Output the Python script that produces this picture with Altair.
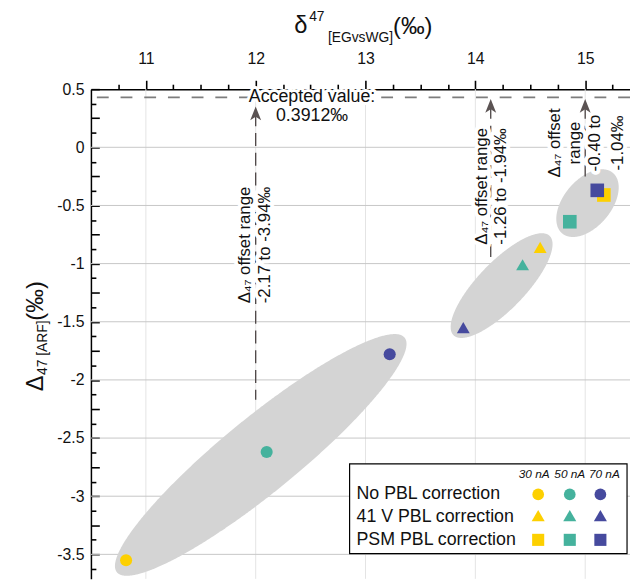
import numpy as np
import pandas as pd
import altair as alt

# ---------------- data ----------------
currents = ["30 nA", "50 nA", "70 nA"]
colors = ["#FDD000", "#45B29D", "#464A9E"]
corrections = ["No PBL correction", "41 V PBL correction", "PSM PBL correction"]
shapes = ["circle", "triangle-up", "square"]

x_no_pbl = [10.82, 12.10, 13.22]
y_no_pbl = [-3.55, -2.62, -1.78]
x_41v = [14.59, 14.43, 13.89]
y_41v = [-0.86, -1.01, -1.55]
x_psm = [15.17, 14.86, 15.11]
y_psm = [-0.41, -0.64, -0.37]

accepted_line = 0.43          # level of the dashed "accepted value" line as drawn
accepted_label = ["Accepted value:", "0.3912‰"]

offset_x = [12.0, 14.14, 15.0]        # arrow / dashed line positions
offset_end = [-2.17, -1.0, -0.25]     # lower end of dashed guide lines
offset_texts = [
    ["Δ₄₇ offset range", "-2.17 to -3.94‰"],
    ["Δ₄₇ offset range", "-1.26 to -1.94‰"],
    ["Δ₄₇ offset", "range", "-0.40 to", "-1.04‰"],
]

# ellipse groups: center x, center y, semi-major px, semi-minor px, tilt deg
ell_cx = [12.046, 14.239, 15.021]
ell_cy = [-2.645, -1.189, -0.480]
ell_a = [188, 70, 40]
ell_b = [38, 24, 24]
ell_ang = [39.2, 46, 50]

x_labels = [11, 12, 13, 14, 15]
y_labels = [0.5, 0, -0.5, -1, -1.5, -2, -2.5, -3, -3.5]
x_tick_vals = [10.75 + 0.25 * k for k in range(19)]
y_tick_vals = [0.5 - 0.125 * k for k in range(34)]

# ---------------- layout ----------------
W, H = 546, 496
X0, X1 = 10.5, 15.408
Y0, Y1 = -3.7105, 0.5
sx = W / (X1 - X0)
sy = H / (Y1 - Y0)
FONT = "Liberation Sans"

xscale = alt.Scale(domain=[X0, X1], nice=False, zero=False)
yscale = alt.Scale(domain=[Y0, Y1], nice=False, zero=False)
xaxis = alt.Axis(orient="top", values=x_tick_vals, ticks=True, tickColor="black", tickWidth=1.6,
                 tickSize={"condition": {"test": "datum.value % 1 === 0", "value": 9}, "value": 5},
                 grid=False, domainColor="black",
                 domainWidth=1.5, labelFontSize=16, labelFont=FONT, labelColor="#111",
                 labelPadding=14, labelExpr="datum.value % 1 === 0 ? toString(datum.value) : ''",
                 title="")
yaxis = alt.Axis(orient="left", values=y_labels, ticks=False, grid=False, domainColor="black",
                 domainWidth=1.5, labelFontSize=16, labelFont=FONT, labelColor="#111",
                 labelPadding=7, labelExpr="toString(datum.value)", title="")
ytick_axis = alt.Axis(orient="right", offset=-W, values=y_tick_vals, ticks=True,
                      tickColor="black", tickWidth=1.6,
                      tickSize={"condition": {"test": "datum.value % 0.25 === 0", "value": 8.5}, "value": 5},
                      labels=False, domain=False, grid=False, title="")


def X(f):
    return alt.X(f, type="quantitative", scale=xscale, axis=xaxis)


def Y(f):
    return alt.Y(f, type="quantitative", scale=yscale, axis=yaxis)


one = pd.DataFrame({"k": [0]})
layers = []

# grid lines
gx = pd.DataFrame({"x": x_labels})
gy = pd.DataFrame({"y": [v for v in y_labels if v < 0.5]})
layers.append(alt.Chart(gx).mark_rule(color="#e4e4e4", strokeWidth=1).encode(x=X("x")))
layers.append(alt.Chart(gy).mark_rule(color="#c6c6c6", strokeWidth=1).encode(y=Y("y")))

# ellipses
rows = []
for i in range(3):
    th = np.radians(ell_ang[i])
    a, b = ell_a[i], ell_b[i]
    c, s = np.cos(th), np.sin(th)
    hw = np.sqrt((a * c) ** 2 + (b * s) ** 2)
    t = np.linspace(0, np.pi, 300)
    Xp = -hw * np.cos(t)
    A = s ** 2 / a ** 2 + c ** 2 / b ** 2
    B = 2 * Xp * c * s * (1 / a ** 2 - 1 / b ** 2)
    C = Xp ** 2 * (c ** 2 / a ** 2 + s ** 2 / b ** 2) - 1
    d = np.sqrt(np.clip(B ** 2 - 4 * A * C, 0, None))
    ylo = (-B - d) / (2 * A)
    yhi = (-B + d) / (2 * A)
    for xp, lo, hi in zip(Xp, ylo, yhi):
        rows.append({"eid": i, "x": ell_cx[i] + xp / sx,
                     "lo": ell_cy[i] + lo / sy, "hi": ell_cy[i] + hi / sy})
ell = pd.DataFrame(rows)
layers.append(alt.Chart(ell).mark_area(color="#d4d4d4", opacity=1).encode(
    x=X("x"), y=Y("lo"), y2="hi", detail="eid:N"))

# accepted value dashed line
layers.append(alt.Chart(pd.DataFrame({"y": [accepted_line]})).mark_rule(
    color="#7d7d7d", strokeWidth=1.8, strokeDash=[12, 12]).encode(y=Y("y")))

# vertical dashed guide lines
arrow_y = [0.292, 0.356, 0.356]
vl = pd.DataFrame({"x": offset_x, "y": arrow_y, "y2": offset_end})
layers.append(alt.Chart(vl).mark_rule(color="#4a4343", strokeWidth=1.3, strokeDash=[13, 7]).encode(
    x=X("x"), y=Y("y"), y2="y2"))

# annotation texts (rotated)
col_off = [[-11, 10], [-8.5, 10], [-31, -10, 10, 33]]
ann_cy = [-0.84, -0.336, 0.037]
arows = []
for i in range(3):
    for txt_, off in zip(offset_texts[i], col_off[i]):
        arows.append({"x": offset_x[i] + off / sx, "y": ann_cy[i], "t": txt_})
ann = pd.DataFrame(arows)
acc = pd.DataFrame({"x": [12.513, 12.513], "y": [accepted_line, 0.267], "t": accepted_label})

layers.append(alt.Chart(ann).mark_text(angle=270, align="center", baseline="middle", fontSize=17,
                                       font=FONT, fill="white", stroke="white", strokeWidth=8,
                                       strokeJoin="round").encode(x=X("x"), y=Y("y"), text="t:N"))
layers.append(alt.Chart(acc.iloc[:1]).mark_text(align="center", baseline="middle", fontSize=18,
                                                font=FONT, fill="white", stroke="white", strokeWidth=6,
                                                strokeJoin="round").encode(x=X("x"), y=Y("y"), text="t:N"))
layers.append(alt.Chart(ann).mark_text(angle=270, align="center", baseline="middle", fontSize=17,
                                       font=FONT, color="#111").encode(x=X("x"), y=Y("y"), text="t:N"))
layers.append(alt.Chart(acc).mark_text(align="center", baseline="middle", fontSize=18,
                                       font=FONT, color="#111").encode(x=X("x"), y=Y("y"), text="t:N"))

# arrow heads
arrow_path = "M0,-1L0.8,1L0,0.5L-0.8,1Z"
ar = pd.DataFrame({"x": offset_x, "y": arrow_y})
layers.append(alt.Chart(ar).mark_point(shape=arrow_path, filled=True, size=190, color="#5b5353",
                                       opacity=1).encode(x=X("x"), y=Y("y")))

# data points
pts = []
for corr, xs, ys in zip(corrections, [x_no_pbl, x_41v, x_psm], [y_no_pbl, y_41v, y_psm]):
    for cur, xv, yv in zip(currents, xs, ys):
        pts.append({"correction": corr, "current": cur, "x": xv, "y": yv})
pts = pd.DataFrame(pts)
color_enc = alt.Color("current:N", scale=alt.Scale(domain=currents, range=colors), legend=None)
shape_enc = alt.Shape("correction:N", scale=alt.Scale(domain=corrections, range=shapes), legend=None)
size_enc = alt.Size("correction:N", scale=alt.Scale(domain=corrections, range=[150, 190, 165]), legend=None)
layers.append(alt.Chart(pts).mark_point(filled=True, opacity=1).encode(
    x=X("x"), y=Y("y"), color=color_enc, shape=shape_enc, size=size_enc))

# legend box
layers.append(alt.Chart(one).mark_rect(fill="white", stroke="black", strokeWidth=1.2).encode(
    x=alt.value(262), x2=alt.value(543), y=alt.value(379.5), y2=alt.value(470.5)))
row_y = [410.5, 433.5, 456.5]
col_x = [453, 485, 516]
head_x = [449, 485, 520]
for cur, hx in zip(currents, head_x):
    layers.append(alt.Chart(one).mark_text(text=cur, fontSize=12, fontStyle="italic", font=FONT,
                                           align="center", baseline="middle", color="#111").encode(
        x=alt.value(hx), y=alt.value(389.5)))
leg_size = [140, 175, 150]
for j, corr in enumerate(corrections):
    layers.append(alt.Chart(one).mark_text(text=corr, fontSize=18, font=FONT, align="left",
                                           baseline="middle", color="#111").encode(
        x=alt.value(269), y=alt.value(row_y[j])))
    for i, cur in enumerate(currents):
        layers.append(alt.Chart(one).mark_point(shape=shapes[j], filled=True, opacity=1,
                                                size=leg_size[j], color=colors[i]).encode(
            x=alt.value(col_x[i]), y=alt.value(row_y[j] - (1.5 if j == 1 else 0))))


# axis titles (composed)
def txt(t, x, y, size, angle=0, align="left"):
    kw = dict(text=t, fontSize=size, font=FONT, align=align, baseline="alphabetic", color="#111")
    if angle:
        kw["angle"] = angle
    return alt.Chart(one).mark_text(**kw).encode(x=alt.value(x), y=alt.value(y))


layers += [
    txt("δ", 206, -57, 24),
    txt("47", 221, -69, 14),
    txt("[EGvsWG]", 240, -48, 14),
    txt("(‰)", 306, -56, 24),
    txt("Δ", -49, 306, 24, 270),
    txt("47 [ARF]", -45, 289.5, 14, 270),
    txt("(‰)", -49, 234.5, 24, 270),
]

main = alt.layer(*layers)
ytick_layer = alt.Chart(pd.DataFrame({"y": [0.0]})).mark_point(opacity=0).encode(
    y=alt.Y("y:Q", scale=yscale, axis=ytick_axis), x=alt.value(0))

chart = alt.layer(main, ytick_layer).resolve_scale(y="independent").properties(
    width=W, height=H,
    autosize=alt.AutoSizeParams(type="none"),
    padding={"left": 84, "top": 78.5, "right": 0, "bottom": 0},
    background="white",
).configure_view(strokeWidth=0)

chart.save("out.html", embed_options={"renderer": "svg", "actions": False})
